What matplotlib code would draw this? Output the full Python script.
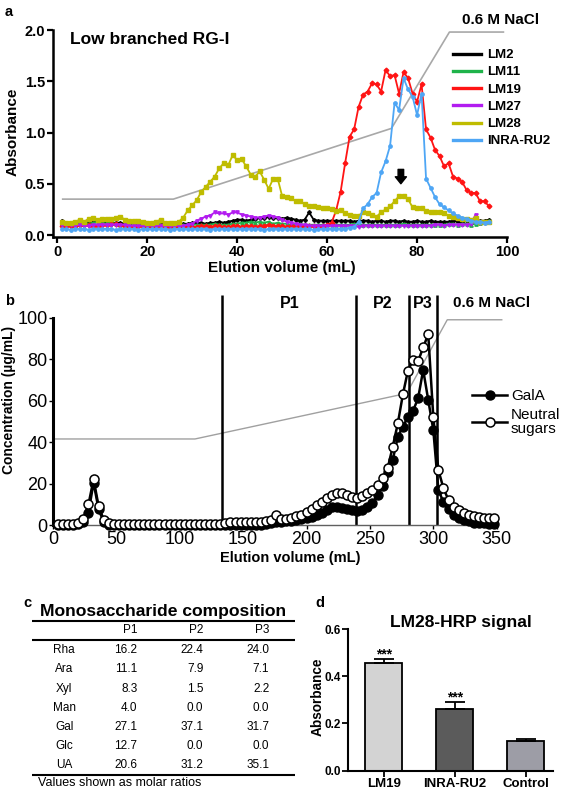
import numpy as np
import matplotlib
matplotlib.use('Agg')
import matplotlib.pyplot as plt
from matplotlib.lines import Line2D

plt.rcParams['font.family'] = ['Liberation Sans', 'DejaVu Sans']

W, H = 568, 790

# ---------------- data: panel a ----------------
elution_a = np.arange(1, 97)
lm2 = [0.14, 0.12, 0.12, 0.12, 0.13, 0.12, 0.13, 0.13, 0.14, 0.13,
       0.13, 0.12, 0.12, 0.12, 0.11, 0.11, 0.12, 0.11, 0.11, 0.11,
       0.11, 0.11, 0.10, 0.11, 0.11, 0.11, 0.11, 0.11, 0.11, 0.12,
       0.12, 0.12, 0.11, 0.12, 0.12, 0.13, 0.12, 0.13, 0.14, 0.15,
       0.15, 0.14, 0.15, 0.16, 0.17, 0.17, 0.18, 0.17, 0.17, 0.16,
       0.17, 0.16, 0.15, 0.14, 0.15, 0.22, 0.15, 0.14, 0.14, 0.14,
       0.14, 0.14, 0.14, 0.14, 0.14, 0.13, 0.14, 0.14, 0.14, 0.13,
       0.14, 0.14, 0.13, 0.14, 0.14, 0.13, 0.14, 0.13, 0.13, 0.14,
       0.13, 0.13, 0.14, 0.13, 0.13, 0.13, 0.13, 0.14, 0.13, 0.13,
       0.14, 0.13, 0.14, 0.14, 0.14, 0.15]
lm11 = [0.11, 0.10, 0.11, 0.10, 0.11, 0.12, 0.11, 0.12, 0.13, 0.14,
        0.13, 0.12, 0.11, 0.10, 0.10, 0.10, 0.09, 0.10, 0.10, 0.10,
        0.10, 0.10, 0.10, 0.09, 0.10, 0.10, 0.10, 0.10, 0.10, 0.10,
        0.10, 0.10, 0.10, 0.10, 0.11, 0.10, 0.10, 0.10, 0.11, 0.11,
        0.12, 0.12, 0.13, 0.12, 0.13, 0.12, 0.13, 0.11, 0.12, 0.11,
        0.11, 0.10, 0.10, 0.11, 0.10, 0.10, 0.10, 0.10, 0.10, 0.10,
        0.10, 0.10, 0.10, 0.10, 0.10, 0.11, 0.10, 0.10, 0.10, 0.10,
        0.10, 0.10, 0.10, 0.10, 0.10, 0.10, 0.11, 0.10, 0.10, 0.10,
        0.10, 0.10, 0.10, 0.10, 0.10, 0.10, 0.11, 0.11, 0.10, 0.11,
        0.11, 0.10, 0.11, 0.12, 0.13, 0.14]
lm19 = [0.09, 0.09, 0.09, 0.09, 0.10, 0.10, 0.10, 0.09, 0.09, 0.10,
        0.10, 0.11, 0.11, 0.10, 0.09, 0.09, 0.08, 0.09, 0.09, 0.08,
        0.08, 0.09, 0.09, 0.08, 0.08, 0.08, 0.08, 0.08, 0.08, 0.08,
        0.08, 0.09, 0.09, 0.08, 0.09, 0.09, 0.08, 0.08, 0.09, 0.09,
        0.08, 0.09, 0.09, 0.08, 0.09, 0.09, 0.10, 0.09, 0.09, 0.09,
        0.08, 0.09, 0.09, 0.08, 0.09, 0.09, 0.09, 0.08, 0.09, 0.10,
        0.12, 0.24, 0.42, 0.70, 0.96, 1.03, 1.25, 1.37, 1.40, 1.48,
        1.47, 1.40, 1.61, 1.55, 1.56, 1.38, 1.59, 1.53, 1.38, 1.30,
        1.47, 1.03, 0.95, 0.83, 0.77, 0.67, 0.70, 0.57, 0.55, 0.52,
        0.44, 0.41, 0.41, 0.33, 0.33, 0.28]
lm27 = [0.10, 0.10, 0.10, 0.09, 0.10, 0.09, 0.09, 0.10, 0.10, 0.10,
        0.10, 0.10, 0.10, 0.10, 0.10, 0.09, 0.09, 0.09, 0.09, 0.09,
        0.09, 0.09, 0.09, 0.09, 0.09, 0.09, 0.09, 0.09, 0.10, 0.11,
        0.14, 0.16, 0.18, 0.19, 0.22, 0.21, 0.21, 0.20, 0.22, 0.22,
        0.20, 0.19, 0.18, 0.17, 0.17, 0.18, 0.19, 0.18, 0.17, 0.15,
        0.13, 0.12, 0.11, 0.10, 0.10, 0.09, 0.09, 0.09, 0.09, 0.09,
        0.09, 0.09, 0.09, 0.09, 0.09, 0.09, 0.08, 0.09, 0.09, 0.09,
        0.09, 0.09, 0.09, 0.09, 0.09, 0.09, 0.09, 0.09, 0.09, 0.09,
        0.09, 0.09, 0.09, 0.10, 0.10, 0.09, 0.10, 0.10, 0.10, 0.10,
        0.10, 0.11, 0.20, 0.12, 0.12, 0.13]
lm28 = [0.13, 0.12, 0.12, 0.13, 0.15, 0.13, 0.16, 0.17, 0.15, 0.16,
        0.16, 0.16, 0.17, 0.18, 0.15, 0.14, 0.14, 0.14, 0.13, 0.12,
        0.12, 0.13, 0.15, 0.12, 0.12, 0.12, 0.13, 0.17, 0.24, 0.29,
        0.34, 0.42, 0.47, 0.52, 0.57, 0.65, 0.70, 0.68, 0.78, 0.73,
        0.74, 0.67, 0.59, 0.57, 0.62, 0.54, 0.45, 0.55, 0.55, 0.38,
        0.37, 0.36, 0.33, 0.33, 0.30, 0.28, 0.28, 0.27, 0.26, 0.26,
        0.25, 0.23, 0.24, 0.21, 0.20, 0.19, 0.19, 0.22, 0.21, 0.20,
        0.18, 0.22, 0.25, 0.28, 0.33, 0.38, 0.38, 0.35, 0.27, 0.26,
        0.26, 0.23, 0.22, 0.22, 0.22, 0.21, 0.19, 0.18, 0.17, 0.16,
        0.16, 0.15, 0.17, 0.13, 0.13, 0.13]
inra_ru2 = [0.06, 0.06, 0.05, 0.06, 0.06, 0.06, 0.05, 0.06, 0.06, 0.06,
            0.06, 0.06, 0.05, 0.06, 0.06, 0.06, 0.06, 0.05, 0.06, 0.06,
            0.06, 0.06, 0.06, 0.06, 0.05, 0.06, 0.06, 0.06, 0.06, 0.06,
            0.06, 0.06, 0.06, 0.05, 0.06, 0.06, 0.06, 0.06, 0.06, 0.06,
            0.06, 0.06, 0.06, 0.06, 0.06, 0.05, 0.06, 0.06, 0.06, 0.06,
            0.06, 0.06, 0.06, 0.06, 0.06, 0.06, 0.05, 0.06, 0.06, 0.06,
            0.06, 0.06, 0.06, 0.06, 0.07, 0.08, 0.13, 0.26, 0.30, 0.37,
            0.41, 0.61, 0.72, 0.87, 1.29, 1.22, 1.53, 1.42, 1.35, 1.17,
            1.38, 0.55, 0.46, 0.37, 0.30, 0.27, 0.24, 0.21, 0.19, 0.17,
            0.16, 0.14, 0.13, 0.13, 0.12, 0.13]
names_a = ['LM2', 'LM11', 'LM19', 'LM27', 'LM28', 'INRA-RU2']
colors_a = ['#000000', '#1fb34a', '#ff1414', '#b21cf0', '#bfbc00', '#4ea6f5']
markers_a = ['P', '^', 'D', 'v', 's', 'o']
nacl_a_x = [1.2, 25.8, 74.3, 87.2, 99.2]
nacl_a_y = [0.35, 0.35, 1.04, 1.98, 1.98]

# ---------------- data: panel b ----------------
elution_b = np.arange(4, 352, 4)
gala = [0, 0, 0, 0, 0.5, 1.5, 6.0, 20.5, 7.5, 1.5, 0,
        0, 0, 0, 0, 0, 0, 0, 0, 0, 0, 0, 0, 0, 0, 0, 0, 0, 0, 0, 0, 0, 0,
        0, 0, 0, 0, 0, 0, 0, 0.2, 0.5, 0.8, 1.5, 1.5, 1.8, 2.0, 2.5, 3.0,
        3.5, 4.0, 5.0, 6.0, 7.0, 8.5, 8.8, 8.0, 7.5, 7.0, 6.8, 7.0, 8.5,
        10.5, 14.5, 19.0, 25.7, 31.4, 42.6, 47.4, 52.2, 55.1, 61.1, 74.8,
        60.3, 45.8, 16.9, 11.0, 7.5, 5.0, 3.5, 2.5, 1.8, 1.2, 1.0, 0.8,
        0.5, 0.5]
neutral = [0.5, 0.5, 0.5, 0.5, 1.0, 3.0, 10.0, 22.0, 9.0, 2.5, 0.8,
           0.5, 0.5, 0.5, 0.5, 0.5, 0.5, 0.5, 0.5, 0.5, 0.5, 0.5, 0.5,
           0.5, 0.5, 0.5, 0.5, 0.5, 0.5, 0.5, 0.5, 0.5, 0.5,
           1.2, 1.5, 1.6, 1.4, 1.3, 1.4, 1.5, 1.5, 1.8, 2.2, 5.0, 3.0,
           3.0, 3.5, 4.2, 5.0, 6.4, 7.8, 9.5, 11.0, 12.9, 14.5, 15.5, 15.2,
           14.5, 13.3, 13.0, 13.8, 15.3, 17.0, 19.3, 22.5, 27.4, 37.8, 49.0,
           63.0, 74.5, 79.5, 79.0, 85.7, 92.0, 52.0, 26.5, 17.7, 12.0, 8.8,
           7.2, 6.0, 5.0, 4.5, 4.0, 3.6, 3.4, 3.2]
fractions_b = [133, 239, 281, 303]
pool_labels = ['P1', 'P2', 'P3']
nacl_b_x = [0, 112, 279, 311, 354]
nacl_b_y = [41.5, 41.5, 63.5, 99, 99]

# ---------------- data: panel c ----------------
sugars = ['Rha', 'Ara', 'Xyl', 'Man', 'Gal', 'Glc', 'UA']
p1 = [16.2, 11.1, 8.3, 4.0, 27.1, 12.7, 20.6]
p2 = [22.4, 7.9, 1.5, 0.0, 37.1, 0.0, 31.2]
p3 = [24.0, 7.1, 2.2, 0.0, 31.7, 0.0, 35.1]

# ---------------- data: panel d ----------------
samples_d = ['LM19', 'INRA-RU2', 'Control']
signal_d = [0.455, 0.262, 0.126]
err_d = [0.018, 0.030, 0.008]
colors_d = ['#d3d3d3', '#5b5b5b', '#9d9da6']
sig_d = ['***', '***', '']

fig = plt.figure(figsize=(W / 100, H / 100), dpi=100)


def rect(x0, y0, x1, y1):
    return [x0 / W, 1 - y1 / H, (x1 - x0) / W, (y1 - y0) / H]


ov = fig.add_axes([0, 0, 1, 1], zorder=10)
ov.set_xlim(0, W)
ov.set_ylim(H, 0)
ov.axis('off')

# ================= panel a =================
axa = fig.add_axes(rect(52.8, 30, 507, 237))
series = [lm2, lm11, lm19, lm27, lm28, inra_ru2]
for vals, c, m in zip(series, colors_a, markers_a):
    axa.plot(elution_a, vals, color=c, lw=1.3, marker=m, ms=2.4,
             mfc=c, mec=c, zorder=3)
axa.plot(nacl_a_x, nacl_a_y, color='#a8a8a8', lw=1.2, clip_on=False, zorder=2)
axa.set_xlim(-1, 100)
axa.set_ylim(-0.0195, 2.0)
axa.set_xticks([0, 20, 40, 60, 80, 100])
axa.set_xticklabels(['0', '20', '40', '60', '80', '100'], fontweight='bold', fontsize=10.5)
axa.set_yticks([0, 0.5, 1.0, 1.5, 2.0])
axa.set_yticklabels(['0.0', '0.5', '1.0', '1.5', '2.0'], fontweight='bold', fontsize=10.5)
for s in ['top', 'right']:
    axa.spines[s].set_visible(False)
for s in ['left', 'bottom']:
    axa.spines[s].set_linewidth(1.8)
axa.tick_params(width=1.6, length=4, pad=1.5)
axa.annotate('', xy=(76.4, 0.50), xytext=(76.4, 0.64),
             arrowprops=dict(arrowstyle='simple,head_width=0.8,head_length=0.5,tail_width=0.4',
                             fc='k', ec='k', shrinkA=0, shrinkB=0))
handles_a = [Line2D([0], [0], color=c, lw=2.4) for c in colors_a]
axa.legend(handles_a, names_a, loc='upper left', bbox_to_anchor=(453 / W, 1 - 49 / H),
           bbox_transform=fig.transFigure, frameon=False,
           prop={'weight': 'bold', 'size': 9.5}, handlelength=2.1, handletextpad=0.5,
           labelspacing=0.38, borderpad=0, borderaxespad=0)
ov.text(70, 39, 'Low branched RG-I', fontsize=12.5, fontweight='bold', ha='left', va='center')
ov.text(501, 20, '0.6 M NaCl', fontsize=11, fontweight='bold', ha='center', va='center')
ov.text(13, 132, 'Absorbance', fontsize=11, fontweight='bold', rotation=90, ha='center', va='center')
ov.text(282, 268, 'Elution volume (mL)', fontsize=11, fontweight='bold', ha='center', va='center')
ov.text(9, 12, 'a', fontsize=10.5, fontweight='bold', ha='center', va='center')

# ================= panel b =================
axb = fig.add_axes(rect(53, 317.7, 496.7, 525))
axb.plot(nacl_b_x, nacl_b_y, color='#a0a0a0', lw=1.0, clip_on=False, zorder=1)
axb.vlines(fractions_b, 0, 111, colors='k', lw=1.8, clip_on=False, zorder=2)
ln_g, = axb.plot(elution_b, gala, color='k', lw=1.8, marker='o', ms=6.5, mfc='k', mec='k',
                 clip_on=False, zorder=3)
ln_n, = axb.plot(elution_b, neutral, color='k', lw=1.8, marker='o', ms=6.5, mfc='white',
                 mec='k', mew=1.1, clip_on=False, zorder=4)
axb.set_xlim(0, 350)
axb.set_ylim(0, 100)
axb.set_xticks(range(0, 351, 50))
axb.set_yticks(range(0, 101, 20))
axb.tick_params(labelsize=13, length=3, width=1.0, pad=1)
for s in ['top', 'right']:
    axb.spines[s].set_visible(False)
axb.spines['left'].set_linewidth(2.2)
axb.spines['bottom'].set_linewidth(1.0)
axb.spines['bottom'].set_color('#606060')
leg = axb.legend([ln_g, ln_n], ['GalA', 'Neutral\nsugars'], loc='upper left',
                 bbox_to_anchor=(472 / W, 1 - 389 / H), bbox_transform=fig.transFigure,
                 frameon=False, fontsize=11, handlelength=2.3, handletextpad=0.25,
                 labelspacing=0.35, borderpad=0, borderaxespad=0)
for t in leg.get_texts():
    t.set_linespacing(0.95)
for xl, lab in zip([290, 383, 423], pool_labels):
    ov.text(xl, 303, lab, fontsize=11.5, fontweight='bold', ha='center', va='center')
ov.text(492, 303, '0.6 M NaCl', fontsize=11, fontweight='bold', ha='center', va='center')
ov.text(9, 400, 'Concentration (µg/mL)', fontsize=10, fontweight='bold', rotation=90,
        ha='center', va='center')
ov.text(290, 558, 'Elution volume (mL)', fontsize=10.5, fontweight='bold', ha='center', va='center')
ov.text(10, 301, 'b', fontsize=10.5, fontweight='bold', ha='center', va='center')

# ================= panel c =================
ov.text(27, 603, 'c', fontsize=10.5, fontweight='bold', ha='center', va='center')
ov.text(163, 611.5, 'Monosaccharide composition', fontsize=12.6, fontweight='bold',
        ha='center', va='center')
ov.hlines([621, 639.5, 774.5], 31.7, 295, colors='k', lw=1.5)
col_x = [137.3, 203.3, 269.3]
for cx, lab in zip(col_x, pool_labels):
    ov.text(cx, 630, lab, fontsize=8.5, ha='right', va='center')
row_y = [650, 669.3, 688.7, 707.7, 726.7, 746, 765]
for ry, name, a, b, c in zip(row_y, sugars, p1, p2, p3):
    ov.text(64.3, ry, name, fontsize=8.5, ha='center', va='center')
    for cx, v in zip(col_x, (a, b, c)):
        ov.text(cx, ry, f'{v:.1f}', fontsize=8.5, ha='right', va='center')
ov.text(38.3, 782.7, 'Values shown as molar ratios', fontsize=9, ha='left', va='center')

# ================= panel d =================
axd = fig.add_axes(rect(348.3, 629, 553.3, 770.7))
xd = np.arange(len(samples_d))
axd.bar(xd, signal_d, width=0.52, color=colors_d, edgecolor='k', linewidth=1.3, zorder=2)
axd.errorbar(xd, signal_d, yerr=[[0] * 3, err_d], fmt='none', ecolor='k', elinewidth=1.3,
             capsize=7, capthick=1.3, zorder=3)
for x, y, e, s in zip(xd, signal_d, err_d, sig_d):
    if s:
        axd.text(x, y + e + 0.02, s, fontsize=10, fontweight='bold', ha='center', va='center')
axd.set_xlim(-0.5, 2.39)
axd.set_ylim(0, 0.6)
axd.set_xticks(xd)
axd.set_xticklabels(samples_d, fontweight='bold', fontsize=9.5)
axd.set_yticks([0, 0.2, 0.4, 0.6])
axd.set_yticklabels(['0.0', '0.2', '0.4', '0.6'], fontweight='bold', fontsize=8.5)
for s in ['top', 'right']:
    axd.spines[s].set_visible(False)
for s in ['left', 'bottom']:
    axd.spines[s].set_linewidth(1.5)
axd.tick_params(width=1.3, length=4, pad=1.5)
ov.text(461, 623, 'LM28-HRP signal', fontsize=12.5, fontweight='bold', ha='center', va='center')
ov.text(318, 697, 'Absorbance', fontsize=9.8, fontweight='bold', rotation=90, ha='center', va='center')
ov.text(320, 603, 'd', fontsize=10.5, fontweight='bold', ha='center', va='center')

fig.savefig('out.png', dpi=100)
